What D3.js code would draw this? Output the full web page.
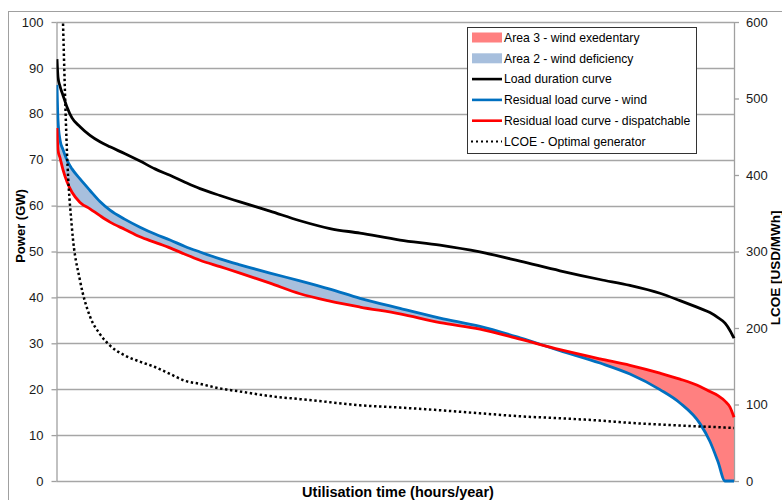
<!DOCTYPE html>
<html>
<head>
<meta charset="utf-8">
<script src="https://cdn.jsdelivr.net/npm/d3@7/dist/d3.min.js"></script>
<style>
  html, body { margin: 0; padding: 0; background: #fff; }
  svg { display: block; }
  text { font-family: "Liberation Sans", Arial, sans-serif; }
</style>
</head>
<body>
<svg id="chart" width="782" height="500"></svg>
<script>
// Hours of the year at which the curves are sampled
const hours = [0, 13, 39, 78, 129, 194, 298, 427, 556, 686, 880, 1074, 1268, 1462, 1656, 1850,
  2109, 2368, 2756, 3144, 3532, 3921, 4438, 4956, 5473, 5991, 6508, 7026, 7414, 7802, 8061,
  8320, 8449, 8553, 8644, 8708, 8760];

// Load duration curve (GW)
const loadGW = [91.9, 88.0, 86.0, 84.0, 81.5, 79.1, 77.2, 75.3, 73.9, 72.8, 71.3, 69.7, 68.0,
  66.6, 65.1, 63.7, 62.2, 60.8, 58.8, 56.7, 55.0, 54.0, 52.5, 51.4, 49.9, 47.9, 45.8, 43.9,
  42.6, 40.9, 39.3, 37.6, 36.7, 35.6, 34.4, 32.8, 31.1];

// Residual load curve after wind (GW)
const windGW = [86.3, 78.6, 74.3, 72.2, 69.9, 68.0, 65.8, 63.3, 60.9, 59.0, 57.0, 55.3, 53.8,
  52.5, 51.1, 49.9, 48.4, 47.1, 45.3, 43.6, 41.8, 39.8, 37.6, 35.5, 33.7, 31.2, 28.4, 25.7,
  23.3, 19.9, 17.0, 12.5, 8.6, 4.2, 0, 0, 0];

// Residual load curve served by dispatchable plant (GW)
const dispGW = [76.9, 72.1, 70.4, 67.8, 65.2, 62.9, 60.7, 59.3, 57.8, 56.4, 54.8, 53.2, 52.0,
  50.8, 49.4, 48.1, 46.7, 45.3, 43.1, 40.8, 39.2, 37.9, 36.4, 34.5, 33.1, 30.9, 28.6, 26.6,
  25.2, 23.5, 22.2, 20.6, 19.5, 18.6, 17.4, 16.1, 13.9];

// LCOE of the optimal generator (USD/MWh); null where it is above the axis range
const lcoe = [null, null, null, 598, 430, 330, 262, 215, 192, 177, 164, 156, 149, 140, 131, 127,
  121, 117, 111, 107, 103, 99, 96, 92.5, 88.5, 84.6, 82, 79, 76, 73.8, 72.5, 71.3, 70.8, 70.3,
  69.8, 69.5, 69.3];

const powerTicks = [0, 10, 20, 30, 40, 50, 60, 70, 80, 90, 100];
const lcoeTicks = [0, 100, 200, 300, 400, 500, 600];

const legendItems = [
  { label: "Area 3 - wind exedentary", kind: "area", color: "#ff8080" },
  { label: "Area 2 - wind deficiency", kind: "area", color: "#a7bfdd" },
  { label: "Load duration curve", kind: "line", color: "#000000" },
  { label: "Residual load curve - wind", kind: "line", color: "#0070c0" },
  { label: "Residual load curve - dispatchable", kind: "line", color: "#ff0000" },
  { label: "LCOE - Optimal generator", kind: "dots", color: "#000000" }
];

const svg = d3.select("#chart");
const plotL = 56.5, plotR = 734, plotT = 22, plotB = 481;

const x = d3.scaleLinear().domain([0, 8760]).range([57, plotR]);
const y = d3.scaleLinear().domain([0, 100]).range([plotB, plotT]);
const y2 = d3.scaleLinear().domain([0, 600]).range([plotB, plotT]);

// outer frame
svg.append("rect").attr("x", 8.5).attr("y", 11.5).attr("width", 900).attr("height", 700)
  .attr("fill", "none").attr("stroke", "#a0a0a0").attr("stroke-width", 1);

// horizontal gridlines
svg.append("g").selectAll("line").data(powerTicks).join("line")
  .attr("x1", plotL).attr("x2", plotR)
  .attr("y1", d => Math.round(y(d)) + 0.5).attr("y2", d => Math.round(y(d)) + 0.5)
  .attr("stroke", "#a6a6a6").attr("stroke-width", 1.3);

const defs = svg.append("defs");
defs.append("clipPath").attr("id", "plotClip").append("rect")
  .attr("x", plotL).attr("y", plotT).attr("width", plotR - plotL + 2).attr("height", plotB - plotT + 2);

const rows = hours.map((h, i) => ({ h, load: loadGW[i], wind: windGW[i], disp: dispGW[i], lcoe: lcoe[i] }));

// hour where the two residual curves cross
let crossH = 8760;
for (let i = 0; i < rows.length - 1; i++) {
  const d0 = rows[i].wind - rows[i].disp, d1 = rows[i + 1].wind - rows[i + 1].disp;
  if (d0 > 0 && d1 <= 0) {
    const t = d0 / (d0 - d1);
    crossH = rows[i].h + t * (rows[i + 1].h - rows[i].h);
    break;
  }
}
const crossX = x(crossH);

defs.append("clipPath").attr("id", "clipDef").append("rect")
  .attr("x", 0).attr("y", 0).attr("width", crossX).attr("height", 500);
defs.append("clipPath").attr("id", "clipExc").append("rect")
  .attr("x", crossX).attr("y", 0).attr("width", 800 - crossX).attr("height", 500);

const band = d3.area().x(d => x(d.h)).y0(d => y(d.disp)).y1(d => y(d.wind))
  .curve(d3.curveMonotoneX);

svg.append("path").datum(rows).attr("d", band).attr("fill", "#a7bfdd")
  .attr("clip-path", "url(#clipDef)");
svg.append("path").datum(rows).attr("d", band).attr("fill", "#ff8080")
  .attr("clip-path", "url(#clipExc)");

// axes
const axL = svg.append("g").attr("transform", `translate(${plotL},0)`)
  .call(d3.axisLeft(y).tickValues(powerTicks).tickSize(5).tickPadding(8).tickSizeOuter(0));
const axR = svg.append("g").attr("transform", `translate(${plotR},0)`)
  .call(d3.axisRight(y2).tickValues(lcoeTicks).tickSize(5).tickPadding(7).tickSizeOuter(0));
[axL, axR].forEach(g => {
  g.selectAll("path, line").attr("stroke", "#a0a0a0").attr("stroke-width", 1.3);
  g.selectAll("text").attr("font-family", "Liberation Sans, Arial, sans-serif")
    .attr("font-size", 13).attr("fill", "#1a1a1a");
});

const lineOf = key => d3.line().defined(d => d[key] != null)
  .x(d => x(d.h)).y(d => key === "lcoe" ? y2(d[key]) : y(d[key])).curve(d3.curveMonotoneX);

const g = svg.append("g").attr("clip-path", "url(#plotClip)");
g.append("path").datum(rows).attr("d", lineOf("load")).attr("fill", "none")
  .attr("stroke", "#000").attr("stroke-width", 2.8);
g.append("path").datum(rows).attr("d", lineOf("wind")).attr("fill", "none")
  .attr("stroke", "#0070c0").attr("stroke-width", 2.8);
g.append("path").datum(rows).attr("d", lineOf("disp")).attr("fill", "none")
  .attr("stroke", "#ff0000").attr("stroke-width", 2.8);
g.append("path").datum(rows).attr("d", lineOf("lcoe")).attr("fill", "none")
  .attr("stroke", "#000").attr("stroke-width", 2.5).attr("stroke-dasharray", "2.4 2.6");

// axis titles
svg.append("text").attr("transform", "translate(25,226) rotate(-90)")
  .attr("text-anchor", "middle").attr("font-weight", "bold").attr("font-size", 13)
  .text("Power (GW)");
svg.append("text").attr("transform", "translate(780,268) rotate(-90)")
  .attr("text-anchor", "middle").attr("font-weight", "bold").attr("font-size", 13.5)
  .text("LCOE [USD/MWh]");
svg.append("text").attr("x", 398).attr("y", 497)
  .attr("text-anchor", "middle").attr("font-weight", "bold").attr("font-size", 14.5)
  .text("Utilisation time (hours/year)");

// legend
const lg = svg.append("g");
lg.append("rect").attr("x", 467.5).attr("y", 27.5).attr("width", 229).attr("height", 126)
  .attr("fill", "#fff").attr("stroke", "#333").attr("stroke-width", 1);
legendItems.forEach((it, i) => {
  const cy = 37.5 + i * 20.8;
  if (it.kind === "area") {
    lg.append("rect").attr("x", 472).attr("y", cy - 5).attr("width", 30).attr("height", 10)
      .attr("fill", it.color);
  } else if (it.kind === "line") {
    lg.append("line").attr("x1", 472).attr("x2", 502).attr("y1", cy).attr("y2", cy)
      .attr("stroke", it.color).attr("stroke-width", 2.6);
  } else {
    lg.append("line").attr("x1", 471).attr("x2", 502).attr("y1", cy).attr("y2", cy)
      .attr("stroke", it.color).attr("stroke-width", 2.2).attr("stroke-dasharray", "2 3");
  }
  lg.append("text").attr("x", 504).attr("y", cy).attr("dy", "0.35em")
    .attr("font-size", 12.2).attr("fill", "#000").text(it.label);
});
</script>
</body>
</html>
